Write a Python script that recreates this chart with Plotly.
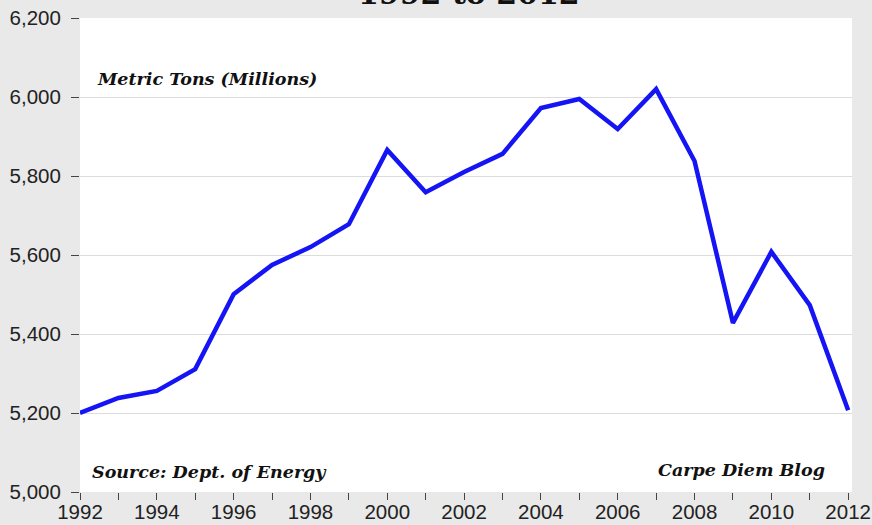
import plotly.graph_objects as go

years = list(range(1992, 2013))
emissions = [5200, 5238, 5256, 5311, 5501, 5575, 5620, 5678, 5866, 5759,
             5810, 5856, 5972, 5995, 5919, 6020, 5838, 5428, 5608, 5473, 5207]
y_ticks = [5000, 5200, 5400, 5600, 5800, 6000, 6200]
y_tick_labels = ["5,000", "5,200", "5,400", "5,600", "5,800", "6,000", "6,200"]
x_tick_labels = [str(y) if y % 2 == 0 else "" for y in years]

fig = go.Figure()
fig.add_trace(go.Scatter(
    x=years, y=emissions, mode="lines",
    line=dict(color="#1414f5", width=4.5),
    hoverinfo="x+y", showlegend=False,
))

fig.update_layout(
    width=872, height=525,
    margin=dict(l=80, r=20, t=18, b=33, autoexpand=False),
    paper_bgcolor="#e9e9e9",
    plot_bgcolor="#ffffff",
    font=dict(family="Liberation Sans, Arial, sans-serif", size=20, color="#222222"),
    xaxis=dict(
        range=[1992, 2012.1], tickmode="array", tickvals=years, ticktext=x_tick_labels,
        ticks="outside", ticklen=7, tickwidth=1, tickcolor="#444444",
        ticklabelstandoff=-6, automargin=False,
        showgrid=False, zeroline=False, showline=False,
        tickfont=dict(size=20.5, color="#222222"),
    ),
    yaxis=dict(
        range=[5000, 6200], tickmode="array", tickvals=y_ticks, ticktext=y_tick_labels,
        ticks="outside", ticklen=8, tickwidth=1.2, tickcolor="#444444",
        ticklabelstandoff=6, automargin=False,
        showgrid=True, gridcolor="#dcdcdc", gridwidth=1,
        zeroline=False, showline=False,
        tickfont=dict(size=20.5, color="#222222"),
    ),
    annotations=[
        dict(text="<b>1992 to 2012</b>", xref="paper", yref="paper", x=0.504, y=1.052,
             xanchor="center", yanchor="middle", showarrow=False,
             font=dict(family="DejaVu Serif, serif", size=30, color="#111111")),
        dict(text="<b><i>Metric Tons (Millions)</i></b>", xref="paper", yref="paper",
             x=0.02, y=0.872, xanchor="left", yanchor="middle", showarrow=False,
             font=dict(family="DejaVu Serif, serif", size=17.5, color="#111111")),
        dict(text="<b><i>Source: Dept. of Energy</i></b>", xref="paper", yref="paper",
             x=0.013, y=0.042, xanchor="left", yanchor="middle", showarrow=False,
             font=dict(family="DejaVu Serif, serif", size=17.5, color="#111111")),
        dict(text="<b><i>Carpe Diem Blog</i></b>", xref="paper", yref="paper",
             x=0.968, y=0.046, xanchor="right", yanchor="middle", showarrow=False,
             font=dict(family="DejaVu Serif, serif", size=17.5, color="#111111")),
    ],
)

fig.write_html(
    "out.html",
    config={"displayModeBar": False},
    post_script="document.body.style.margin='0';document.body.style.overflow='hidden';",
)
